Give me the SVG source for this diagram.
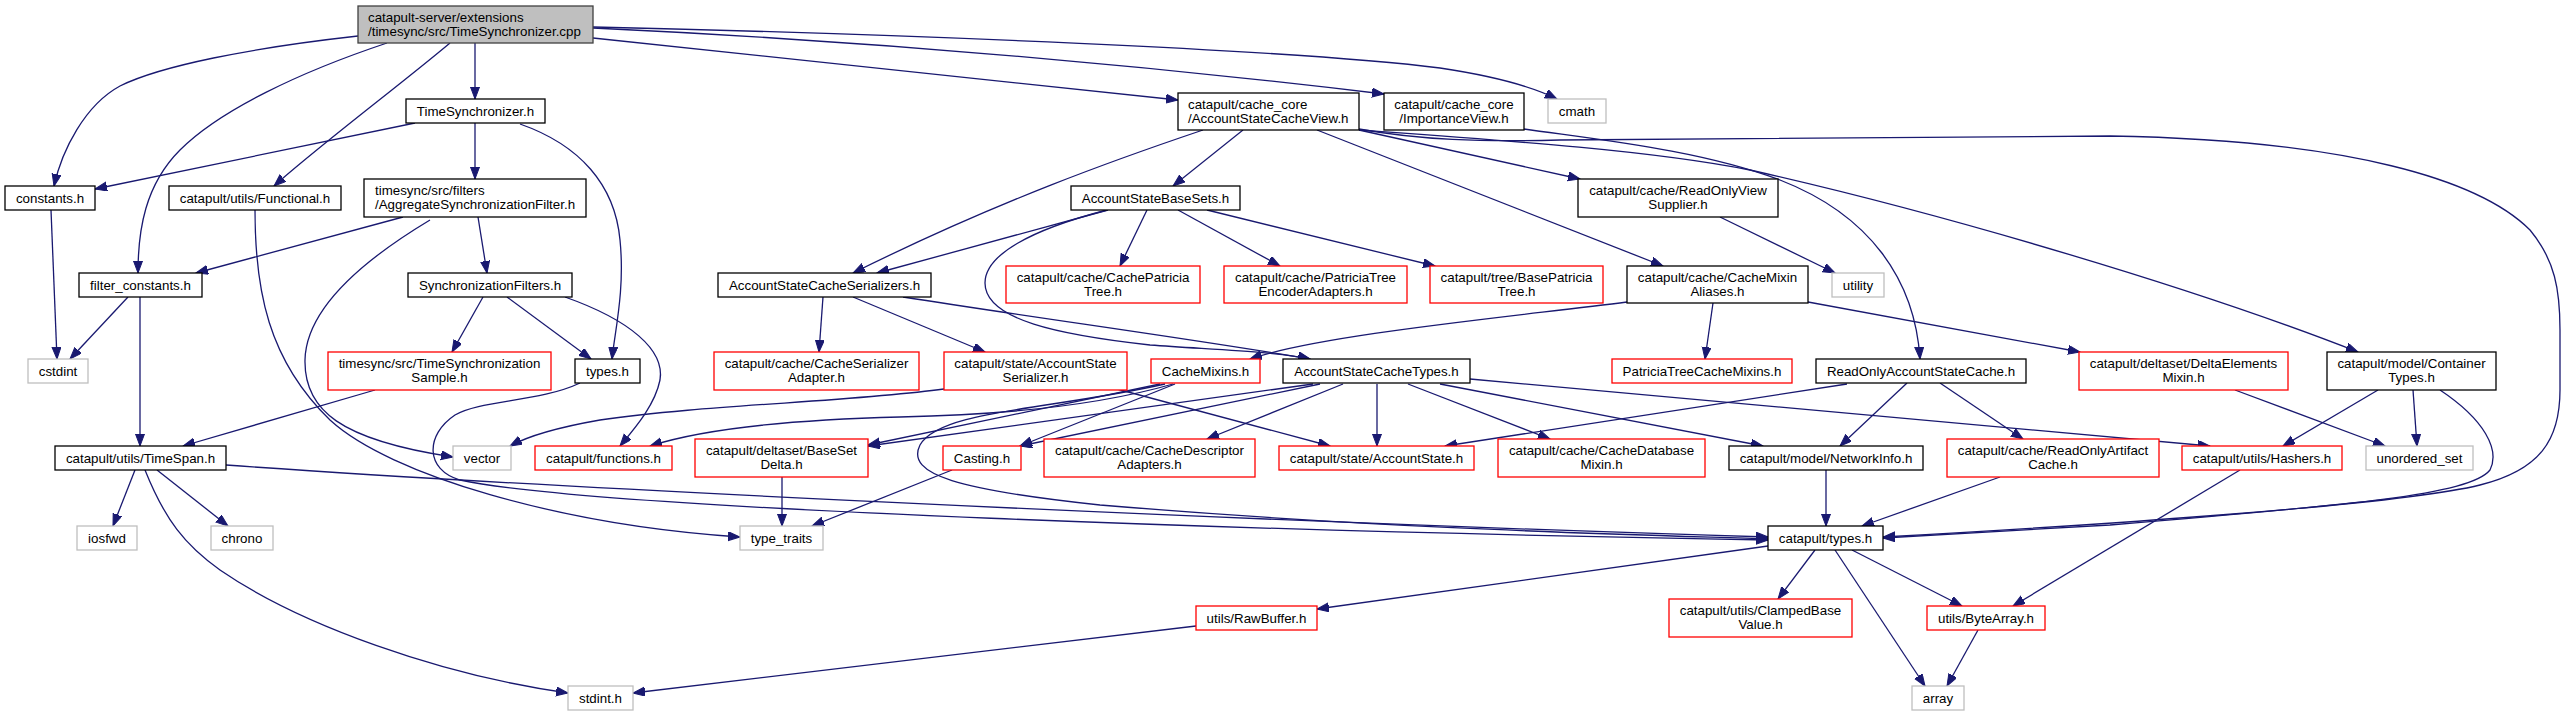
<svg xmlns="http://www.w3.org/2000/svg" width="2566" height="716" viewBox="0 0 2566 716">
<style>
rect{fill:#fff;stroke:#000;stroke-width:1.3}
.r rect{stroke:#ff0000}
.g rect{stroke:#bfbfbf}
.root rect{fill:#bfbfbf;stroke:#404040}
text{font-family:"Liberation Sans",Arial,Helvetica,sans-serif;font-size:13.33px;fill:#000;text-anchor:middle}
text.l{text-anchor:start}
#edges path{fill:none;stroke:#191970;stroke-width:1.3;marker-end:url(#a)}
</style>
<defs>
<marker id="a" markerUnits="userSpaceOnUse" markerWidth="13" markerHeight="10" refX="12" refY="4.5" orient="auto">
<path d="M0,0 L12,4.5 L0,9 z" fill="#191970" stroke="#191970" stroke-width="1"/>
</marker>
</defs>
<rect x="0" y="0" width="2566" height="716" style="fill:#fff;stroke:none"/>
<g id="edges">
<path d="M358,36 C250,48 160,66 120,86 C85,105 62,150 54,186"/>
<path d="M387,43 C300,72 220,110 180,150 C145,185 138,230 138,273"/>
<path d="M450,43 C400,85 320,145 274,186"/>
<path d="M475,43 L475,99"/>
<path d="M593,38 L1178,100"/>
<path d="M593,28 C850,40 1100,60 1384,94"/>
<path d="M593,27 C900,34 1300,50 1440,68 C1500,77 1535,88 1557,99"/>
<path d="M415,123 L95,189"/>
<path d="M475,123 L475,179"/>
<path d="M520,124 C580,145 615,185 620,240 C625,290 615,330 612,359"/>
<path d="M403,217 L196,273"/>
<path d="M478,217 L487,273"/>
<path d="M430,220 C360,262 306,310 305,360 C304,410 340,440 453,457"/>
<path d="M255,210 C255,290 268,360 330,420 C390,475 560,525 740,537"/>
<path d="M483,297 L452,352"/>
<path d="M507,297 L591,359"/>
<path d="M565,297 C630,320 665,350 660,380 C655,405 635,428 620,446"/>
<path d="M128,297 L70,359"/>
<path d="M140,297 L140,446"/>
<path d="M51,210 L57,359"/>
<path d="M375,390 L183,446"/>
<path d="M135,470 L113,526"/>
<path d="M157,470 L228,526"/>
<path d="M145,470 C165,520 185,545 220,570 C300,625 440,675 568,693"/>
<path d="M226,465 C500,485 1200,520 1768,537"/>
<path d="M580,383 C540,402 480,400 455,415 C425,435 425,470 460,480 C600,510 1300,532 1768,540"/>
<path d="M1165,384 C1050,410 940,410 920,445 C905,475 960,490 1100,505 C1400,530 1650,535 1768,539"/>
<path d="M1203,130 C1120,158 1000,200 853,273"/>
<path d="M1243,130 L1173,186"/>
<path d="M1317,130 L1663,266"/>
<path d="M1359,130 C1450,150 1520,165 1580,179"/>
<path d="M1359,130 C1500,140 1650,150 1750,170 C1950,215 2200,290 2358,352"/>
<path d="M1359,129 C1420,140 1480,142 1560,140 L2110,136 C2350,140 2480,180 2530,230 C2555,260 2560,290 2560,330 L2560,390 C2560,440 2540,470 2480,485 C2400,505 2100,525 1883,537"/>
<path d="M1524,129 C1600,140 1700,150 1780,180 C1870,215 1915,280 1920,359"/>
<path d="M1108,210 L877,273"/>
<path d="M1147,210 L1120,266"/>
<path d="M1178,210 L1280,266"/>
<path d="M1207,210 L1435,266"/>
<path d="M1107,210 C1030,230 985,255 985,283 C985,320 1060,335 1150,345 C1220,350 1280,352 1310,359"/>
<path d="M823,297 L819,352"/>
<path d="M853,297 L985,352"/>
<path d="M903,297 C1050,320 1200,340 1310,359"/>
<path d="M1627,302 C1500,318 1320,335 1250,359"/>
<path d="M1713,303 L1705,359"/>
<path d="M1808,302 L2080,352"/>
<path d="M1720,217 L1835,273"/>
<path d="M1173,384 C1100,405 1000,415 900,417 C780,420 700,430 650,446"/>
<path d="M1160,384 L868,445"/>
<path d="M1175,384 L1020,446"/>
<path d="M944,389 C850,402 700,405 600,420 C560,427 530,435 510,446"/>
<path d="M1117,389 L1330,446"/>
<path d="M1313,384 L868,446"/>
<path d="M1320,384 L1020,446"/>
<path d="M1343,384 L1207,439"/>
<path d="M1377,384 L1377,446"/>
<path d="M1408,384 L1550,439"/>
<path d="M1440,384 L1763,446"/>
<path d="M1470,379 L2210,446"/>
<path d="M1847,384 L1445,446"/>
<path d="M1907,383 L1840,446"/>
<path d="M1940,383 L2023,439"/>
<path d="M1826,470 L1826,526"/>
<path d="M2000,477 L1862,526"/>
<path d="M2378,390 L2283,446"/>
<path d="M2413,390 L2417,446"/>
<path d="M2440,390 C2485,420 2500,450 2490,470 C2470,495 2350,505 2110,525 C2000,532 1930,535 1883,538"/>
<path d="M2235,390 L2385,446"/>
<path d="M2240,470 L2013,606"/>
<path d="M1768,546 L1317,609"/>
<path d="M1815,550 L1778,599"/>
<path d="M1835,550 L1925,686"/>
<path d="M1852,550 L1962,606"/>
<path d="M1978,630 L1947,686"/>
<path d="M1196,626 L633,693"/>
<path d="M782,477 L782,526"/>
<path d="M952,470 L812,526"/>
</g>
<g id="n_root" class="root"><rect x="358" y="6" width="235" height="37"/><text class="l" x="368" y="22">catapult-server/extensions</text><text class="l" x="368" y="36">/timesync/src/TimeSynchronizer.cpp</text></g>
<g id="n_timesynchronizer_h"><rect x="406" y="99" width="139" height="24"/><text x="475.5" y="115.5">TimeSynchronizer.h</text></g>
<g id="n_constants_h"><rect x="5" y="186" width="90" height="24"/><text x="50" y="202.5">constants.h</text></g>
<g id="n_functional_h"><rect x="169" y="186" width="172" height="24"/><text x="255" y="202.5">catapult/utils/Functional.h</text></g>
<g id="n_aggregate"><rect x="364" y="179" width="222" height="38"/><text class="l" x="375" y="195">timesync/src/filters</text><text class="l" x="375" y="209">/AggregateSynchronizationFilter.h</text></g>
<g id="n_filter_constants"><rect x="79" y="273" width="123" height="24"/><text x="140.5" y="289.5">filter_constants.h</text></g>
<g id="n_syncfilters"><rect x="408" y="273" width="164" height="24"/><text x="490" y="289.5">SynchronizationFilters.h</text></g>
<g id="n_cstdint" class="g"><rect x="28" y="359" width="60" height="24"/><text x="58" y="375.5">cstdint</text></g>
<g id="n_sample" class="r"><rect x="328" y="352" width="223" height="38"/><text x="439.5" y="368">timesync/src/TimeSynchronization</text><text x="439.5" y="382">Sample.h</text></g>
<g id="n_types_local"><rect x="575" y="359" width="65" height="24"/><text x="607.5" y="375.5">types.h</text></g>
<g id="n_timespan"><rect x="55" y="446" width="171" height="24"/><text x="140.5" y="462.5">catapult/utils/TimeSpan.h</text></g>
<g id="n_iosfwd" class="g"><rect x="77" y="526" width="60" height="24"/><text x="107" y="542.5">iosfwd</text></g>
<g id="n_chrono" class="g"><rect x="211" y="526" width="62" height="24"/><text x="242" y="542.5">chrono</text></g>
<g id="n_stdint" class="g"><rect x="568" y="686" width="65" height="24"/><text x="600.5" y="702.5">stdint.h</text></g>
<g id="n_vector" class="g"><rect x="453" y="446" width="58" height="24"/><text x="482" y="462.5">vector</text></g>
<g id="n_functions" class="r"><rect x="535" y="446" width="137" height="24"/><text x="603.5" y="462.5">catapult/functions.h</text></g>
<g id="n_basesetdelta" class="r"><rect x="695" y="439" width="173" height="38"/><text x="781.5" y="455">catapult/deltaset/BaseSet</text><text x="781.5" y="469">Delta.h</text></g>
<g id="n_type_traits" class="g"><rect x="740" y="526" width="83" height="24"/><text x="781.5" y="542.5">type_traits</text></g>
<g id="n_serializeradapter" class="r"><rect x="714" y="352" width="205" height="38"/><text x="816.5" y="368">catapult/cache/CacheSerializer</text><text x="816.5" y="382">Adapter.h</text></g>
<g id="n_accountstateserializer" class="r"><rect x="944" y="352" width="183" height="38"/><text x="1035.5" y="368">catapult/state/AccountState</text><text x="1035.5" y="382">Serializer.h</text></g>
<g id="n_cachemixins" class="r"><rect x="1151" y="359" width="109" height="24"/><text x="1205.5" y="375.5">CacheMixins.h</text></g>
<g id="n_casting" class="r"><rect x="943" y="446" width="78" height="24"/><text x="982" y="462.5">Casting.h</text></g>
<g id="n_descriptoradapters" class="r"><rect x="1044" y="439" width="211" height="38"/><text x="1149.5" y="455">catapult/cache/CacheDescriptor</text><text x="1149.5" y="469">Adapters.h</text></g>
<g id="n_rawbuffer" class="r"><rect x="1196" y="606" width="121" height="24"/><text x="1256.5" y="622.5">utils/RawBuffer.h</text></g>
<g id="n_cachetypes"><rect x="1283" y="359" width="187" height="24"/><text x="1376.5" y="375.5">AccountStateCacheTypes.h</text></g>
<g id="n_ptcachemixins" class="r"><rect x="1612" y="359" width="180" height="24"/><text x="1702" y="375.5">PatriciaTreeCacheMixins.h</text></g>
<g id="n_accountstate" class="r"><rect x="1279" y="446" width="195" height="24"/><text x="1376.5" y="462.5">catapult/state/AccountState.h</text></g>
<g id="n_databasemixin" class="r"><rect x="1498" y="439" width="207" height="38"/><text x="1601.5" y="455">catapult/cache/CacheDatabase</text><text x="1601.5" y="469">Mixin.h</text></g>
<g id="n_readonlycache"><rect x="1816" y="359" width="210" height="24"/><text x="1921" y="375.5">ReadOnlyAccountStateCache.h</text></g>
<g id="n_networkinfo"><rect x="1729" y="446" width="194" height="24"/><text x="1826" y="462.5">catapult/model/NetworkInfo.h</text></g>
<g id="n_artifactcache" class="r"><rect x="1947" y="439" width="212" height="38"/><text x="2053" y="455">catapult/cache/ReadOnlyArtifact</text><text x="2053" y="469">Cache.h</text></g>
<g id="n_catapult_types"><rect x="1768" y="526" width="115" height="24"/><text x="1825.5" y="542.5">catapult/types.h</text></g>
<g id="n_clamped" class="r"><rect x="1669" y="599" width="183" height="38"/><text x="1760.5" y="615">catapult/utils/ClampedBase</text><text x="1760.5" y="629">Value.h</text></g>
<g id="n_bytearray" class="r"><rect x="1927" y="606" width="118" height="24"/><text x="1986" y="622.5">utils/ByteArray.h</text></g>
<g id="n_array" class="g"><rect x="1912" y="686" width="52" height="24"/><text x="1938" y="702.5">array</text></g>
<g id="n_hashers" class="r"><rect x="2182" y="446" width="160" height="24"/><text x="2262" y="462.5">catapult/utils/Hashers.h</text></g>
<g id="n_unordered_set" class="g"><rect x="2366" y="446" width="107" height="24"/><text x="2419.5" y="462.5">unordered_set</text></g>
<g id="n_deltaelements" class="r"><rect x="2079" y="352" width="209" height="38"/><text x="2183.5" y="368">catapult/deltaset/DeltaElements</text><text x="2183.5" y="382">Mixin.h</text></g>
<g id="n_containertypes"><rect x="2327" y="352" width="169" height="38"/><text x="2411.5" y="368">catapult/model/Container</text><text x="2411.5" y="382">Types.h</text></g>
<g id="n_cacheview"><rect x="1178" y="93" width="181" height="37"/><text class="l" x="1188" y="109">catapult/cache_core</text><text class="l" x="1188" y="123">/AccountStateCacheView.h</text></g>
<g id="n_importanceview"><rect x="1384" y="93" width="140" height="37"/><text x="1454" y="109">catapult/cache_core</text><text x="1454" y="123">/ImportanceView.h</text></g>
<g id="n_cmath" class="g"><rect x="1548" y="99" width="58" height="24"/><text x="1577" y="115.5">cmath</text></g>
<g id="n_basesets"><rect x="1071" y="186" width="169" height="24"/><text x="1155.5" y="202.5">AccountStateBaseSets.h</text></g>
<g id="n_serializers"><rect x="718" y="273" width="213" height="24"/><text x="824.5" y="289.5">AccountStateCacheSerializers.h</text></g>
<g id="n_cachepatricia" class="r"><rect x="1006" y="266" width="194" height="37"/><text x="1103" y="282">catapult/cache/CachePatricia</text><text x="1103" y="296">Tree.h</text></g>
<g id="n_encoderadapters" class="r"><rect x="1224" y="266" width="183" height="37"/><text x="1315.5" y="282">catapult/cache/PatriciaTree</text><text x="1315.5" y="296">EncoderAdapters.h</text></g>
<g id="n_basepatricia" class="r"><rect x="1430" y="266" width="173" height="37"/><text x="1516.5" y="282">catapult/tree/BasePatricia</text><text x="1516.5" y="296">Tree.h</text></g>
<g id="n_viewsupplier"><rect x="1578" y="179" width="200" height="38"/><text x="1678" y="195">catapult/cache/ReadOnlyView</text><text x="1678" y="209">Supplier.h</text></g>
<g id="n_mixinaliases"><rect x="1627" y="266" width="181" height="37"/><text x="1717.5" y="282">catapult/cache/CacheMixin</text><text x="1717.5" y="296">Aliases.h</text></g>
<g id="n_utility" class="g"><rect x="1832" y="273" width="52" height="24"/><text x="1858" y="289.5">utility</text></g>
</svg>
